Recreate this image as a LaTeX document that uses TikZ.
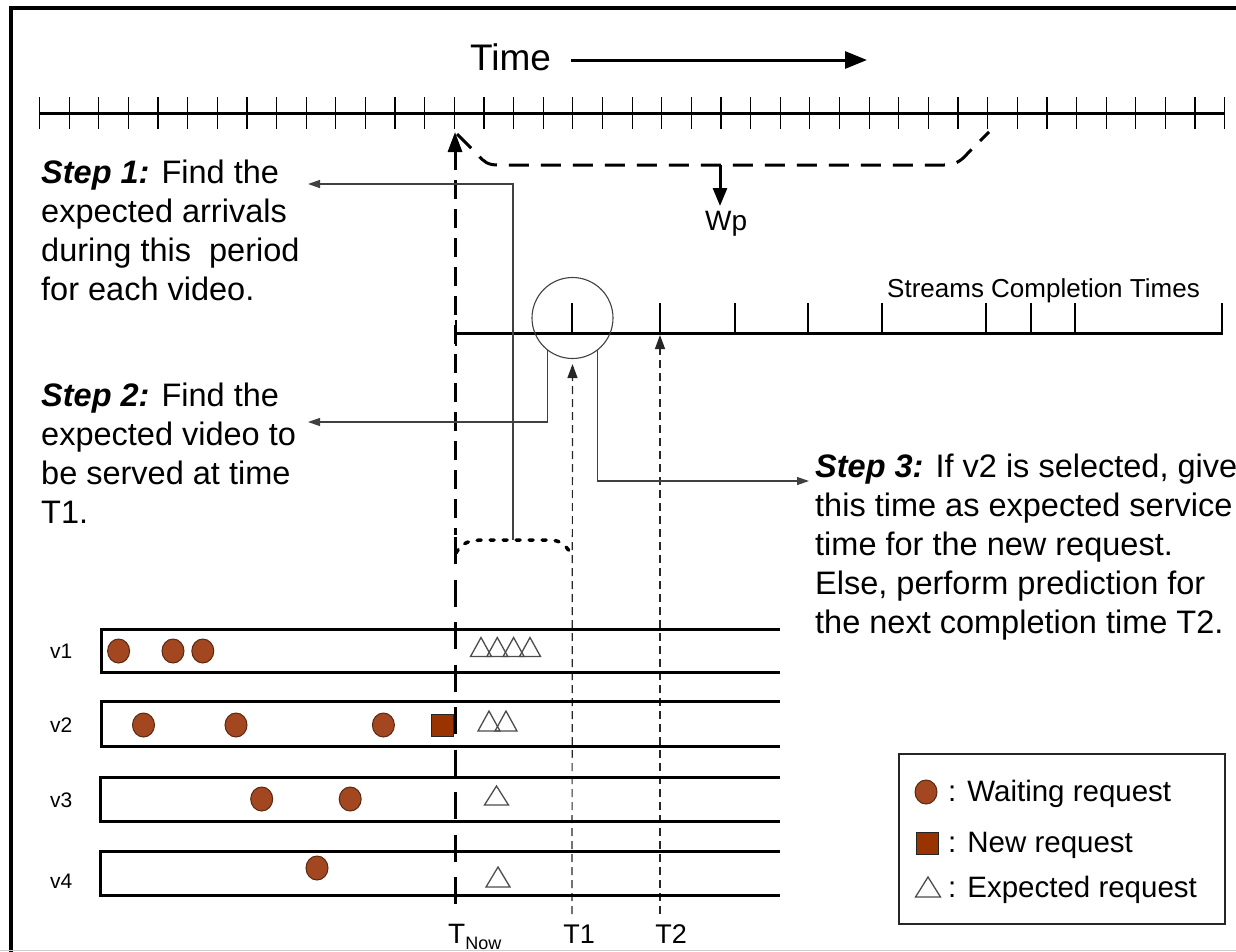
\documentclass[tikz,border=0pt]{standalone}
\usepackage{fontspec}
\setmainfont{Liberation Sans}
\usetikzlibrary{arrows.meta,shapes.geometric}
\definecolor{brownfill}{HTML}{A2471F}
\definecolor{brownline}{HTML}{5A2810}
\definecolor{newsq}{HTML}{993300}
\tikzset{
  axisline/.style={line width=3pt},
  tickline/.style={line width=1.2pt},
  conn/.style={draw=black!75, line width=1.3pt, -{Triangle[length=12pt,width=8pt]}},
  thindash/.style={draw=black!85, line width=1.2pt, dash pattern=on 8pt off 5pt, -{Triangle[length=14pt,width=10pt]}},
  waitreq/.style={ellipse, draw=brownline, fill=brownfill, line width=1pt, minimum width=22pt, minimum height=24pt, inner sep=0pt},
  newreq/.style={rectangle, draw=black!85, fill=newsq, minimum size=22pt, inner sep=0pt, line width=1pt},
  tri/.style={draw=black!70, line width=1.3pt, line join=miter},
  rowline/.style={line width=3pt},
  steptext/.style={anchor=north west, inner sep=0pt, align=left, font=\fontsize{32.5}{39}\selectfont},
  lbl/.style={inner sep=0pt, anchor=base west},
}
\begin{document}
\begin{tikzpicture}[x=1pt,y=-1pt]
\useasboundingbox (0,0) rectangle (1236,951);
\clip (0,0) rectangle (1236,951);
% frame
\draw[line width=4.5pt] (11,970) -- (11,8) -- (1236,8);
\draw[black!20, line width=1.5pt] (0,950.5) -- (1236,950.5);

% time title and arrow
\node[lbl, font=\fontsize{37}{40}\selectfont] (time) at (470,70) {Time};
\coordinate (timestart) at (571,60);
\coordinate (timeend) at (867,60);
\draw[line width=3pt, -{Triangle[length=22pt,width=17pt]}] (timestart) -- (timeend);

% time axis
\draw[axisline] (39.5,113) -- (1224.7,113);
\foreach \i in {0,...,40} \draw[tickline] ({39.5+29.63*\i},97) -- ({39.5+29.63*\i},129);

% Wp bracket
\draw[line width=3pt, dash pattern=on 20pt off 12pt] (457,134) -- (478,155) .. controls (484,162) and (488,165) .. (498,165) -- (944,165) .. controls (956,165) and (962,160) .. (968,153) -- (989,132);
\coordinate (wptop) at (720,165);
\coordinate (wpend) at (720,206);
\draw[line width=3pt, -{Triangle[length=18pt,width=14pt]}] (wptop) -- (wpend);
\node[lbl, font=\fontsize{28}{30}\selectfont] (wp) at (705,230) {Wp};

% streams completion axis
\node[lbl, font=\fontsize{26}{28}\selectfont] (sct) at (887,297) {Streams Completion Times};
\draw[axisline] (455,333) -- (1223,333);
\draw[line width=2.5pt] (456,320) -- (456,346);
\foreach \x in {572,660,735,808,882,986,1031,1075,1222} \draw[tickline] (\x,303) -- (\x,333);
\node[circle, draw=black!75, line width=1.1pt, minimum size=81pt, inner sep=0pt] (sel) at (572.5,318) {};

% T_Now line
\draw[line width=3pt, dash pattern=on 19pt off 10pt, {Triangle[length=20pt,width=14pt]}-] (455,132) -- (455,535);
\draw[line width=3pt, dash pattern=on 27pt off 15.5pt] (455,537) -- (455,906);

% T1 / T2 dashed arrows
\coordinate (t1b) at (572,914);
\coordinate (t2b) at (660,914);
\coordinate (t2top) at (660,335);
\draw[thindash, shorten >=5pt] (t1b) -- (sel.south);
\draw[thindash] (t2b) -- (t2top);

% bottom labels
\node[lbl, font=\fontsize{28}{30}\selectfont] (tnow) at (448,943) {T\raisebox{-6pt}{\fontsize{18}{20}\selectfont Now}};
\node[inner sep=0pt, anchor=base, font=\fontsize{27}{30}\selectfont] (t1) at (579,943) {T1};
\node[inner sep=0pt, anchor=base, font=\fontsize{27}{30}\selectfont] (t2) at (671,943) {T2};

% dotted period curve
\draw[line width=3.5pt, line cap=round, dash pattern=on 4pt off 9pt] (456,553) .. controls (462,542) and (470,540) .. (485,540) -- (550,540) .. controls (562,540) and (568,548) .. (572,556);

% step texts
\node[steptext] (step1) at (41,159.5) {\textbf{\textit{Step 1:}} Find the\\expected arrivals\\during this~ period\\for each video.};
\node[steptext] (step2) at (41,382.5) {\textbf{\textit{Step 2:}} Find the\\expected video to\\be served at time\\T1.};
\node[steptext] (step3) at (815,454) {\textbf{\textit{Step 3:}} If v2 is selected, give\\this time as expected service\\time for the new request.\\Else, perform prediction for\\the next completion time T2.};

% connectors
\coordinate (dtop) at (513,540);
\coordinate (s1tip) at (308,184);
\coordinate (s2tip) at (308,422);
\coordinate (s3tip) at (809,481);
\draw[conn] (dtop) |- (s1tip);
\draw[conn] (sel.232.8) |- (s2tip);
\draw[conn] (sel.308.6) |- (s3tip);

% video rows
\draw[rowline] (780,629) -| (101,672) -- (780,672);
\draw[rowline] (780,701) -| (101,746) -- (780,746);
\draw[rowline] (780,777) -| (100,821) -- (780,821);
\draw[rowline] (780,851) -| (100,895) -- (780,895);
\node[lbl, font=\fontsize{21}{24}\selectfont] (v1) at (50,658) {v1};
\node[lbl, font=\fontsize{21}{24}\selectfont] (v2) at (50,732) {v2};
\node[lbl, font=\fontsize{21}{24}\selectfont] (v3) at (50,807) {v3};
\node[lbl, font=\fontsize{21}{24}\selectfont] (v4) at (50,888) {v4};

% waiting requests
\node[waitreq] (w11) at (118.6,651) {};
\node[waitreq] (w12) at (173,651) {};
\node[waitreq] (w13) at (202.8,651) {};
\node[waitreq] (w21) at (143.5,725) {};
\node[waitreq] (w22) at (236,725) {};
\node[waitreq] (w23) at (383.4,725) {};
\node[waitreq] (w31) at (261.7,799) {};
\node[waitreq] (w32) at (350.2,799) {};
\node[waitreq] (w41) at (317,868) {};
\node[newreq] (nr) at (442.7,725) {};

% expected requests
\foreach \cx in {481,497.3,513.6,530} \draw[tri] (\cx-10.5,656.5) -- (\cx,637.5) -- (\cx+10.5,656.5) -- cycle;
\foreach \cx in {489,506} \draw[tri] (\cx-11,731) -- (\cx,711) -- (\cx+11,731) -- cycle;
\draw[tri] (484.5,805) -- (496.5,786) -- (508.5,805) -- cycle;
\draw[tri] (486,887) -- (498,867) -- (510,887) -- cycle;

% legend
\draw[line width=1.3pt, draw=black!85] (899,754) rectangle (1225,924);
\node[waitreq] (lw) at (926,792) {};
\node[newreq] (ln) at (927,843) {};
\draw[tri] (915.5,897) -- (928,877) -- (940.5,897) -- cycle;
\node[lbl, font=\fontsize{29.5}{32}\selectfont] (lt1) at (948,801) {: Waiting request};
\node[lbl, font=\fontsize{29.5}{32}\selectfont] (lt2) at (948,852) {: New request};
\node[lbl, font=\fontsize{29.5}{32}\selectfont] (lt3) at (948,897) {: Expected request};
\end{tikzpicture}
\end{document}
